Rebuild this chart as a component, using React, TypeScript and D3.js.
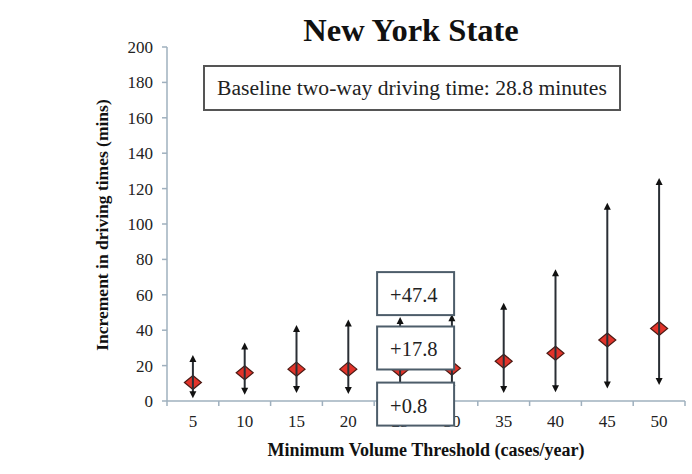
import React from "react";
import * as d3 from "d3";

const categories = [5, 10, 15, 20, 25, 30, 35, 40, 45, 50];
const means = [10.5, 16, 18, 18, 17.8, 18.5, 22.5, 27, 34.5, 41];
const lows = [1.5, 3.5, 4.5, 4, 0.8, 5, 4.5, 5, 7, 9];
const highs = [26, 33, 43, 46, 47.4, 49, 55.5, 74.5, 112, 126];
const yTicks = [0, 20, 40, 60, 80, 100, 120, 140, 160, 180, 200];
const annotatedCategory = 25;
const annotations = ["+47.4", "+17.8", "+0.8"];
const title = "New York State";
const baselineText = "Baseline two-way driving time: 28.8 minutes";
const xTitle = "Minimum Volume Threshold (cases/year)";
const yTitle = "Increment in driving times (mins)";

const W = 692;
const H = 474;
const serif = "'Liberation Serif', 'Times New Roman', serif";

export default function App() {
  const x = d3.scaleBand<number>().domain(categories).range([167, 685]);
  const y = d3.scaleLinear().domain([0, 200]).range([401, 47]);
  const axisColor = "#9fb0be";
  const bw = x.bandwidth();
  const boundaries = d3.range(categories.length + 1).map((i) => 167 + i * bw);

  const ai = categories.indexOf(annotatedCategory);
  const ax = (x(annotatedCategory) as number) + bw / 2;
  const boxW = 77;
  const boxH = 43;
  const boxLeft = ax - 23;
  const boxTops = [
    y(highs[ai]) - 2 - boxH,
    y(means[ai]) - boxH,
    y(lows[ai]) - 17,
  ];

  const diamond = (cx: number, cy: number) =>
    `M${cx},${cy - 7} L${cx + 8.5},${cy} L${cx},${cy + 7} L${cx - 8.5},${cy} Z`;
  const up = (cx: number, cy: number) =>
    `M${cx},${cy} L${cx + 3.5},${cy + 7} L${cx - 3.5},${cy + 7} Z`;
  const down = (cx: number, cy: number) =>
    `M${cx},${cy} L${cx + 3.5},${cy - 7} L${cx - 3.5},${cy - 7} Z`;

  return (
    <svg
      width={W}
      height={H}
      style={{ position: "absolute", left: 0, top: 0, background: "#fff" }}
      fontFamily={serif}
    >
      <rect width={W} height={H} fill="#fff" />
      {/* Title */}
      <text x={411} y={41} textAnchor="middle" fontSize={32.5} fontWeight="bold" fill="#111">
        {title}
      </text>

      {/* Y axis */}
      <line x1={167} x2={167} y1={y(200)} y2={y(0)} stroke={axisColor} strokeWidth={1.5} />
      {yTicks.map((t) => (
        <g key={t}>
          <line x1={162} x2={167} y1={y(t)} y2={y(t)} stroke={axisColor} strokeWidth={1.5} />
          <text x={153} y={y(t) + 6} textAnchor="end" fontSize={17} fill="#222">
            {t}
          </text>
        </g>
      ))}
      {/* X axis */}
      <line x1={167} x2={685} y1={y(0)} y2={y(0)} stroke={axisColor} strokeWidth={1.5} />
      {boundaries.map((b, i) => (
        <line key={i} x1={b} x2={b} y1={y(0)} y2={y(0) + 5} stroke={axisColor} strokeWidth={1.5} />
      ))}
      {categories.map((c) => (
        <text
          key={c}
          x={(x(c) as number) + bw / 2}
          y={427}
          textAnchor="middle"
          fontSize={17}
          fill="#222"
        >
          {c}
        </text>
      ))}

      {/* Axis titles */}
      <text x={426} y={456} textAnchor="middle" fontSize={18} fontWeight="bold" fill="#111">
        {xTitle}
      </text>
      <text
        transform={`translate(108,225) rotate(-90)`}
        textAnchor="middle"
        fontSize={17.5}
        fontWeight="bold"
        fill="#111"
      >
        {yTitle}
      </text>

      {/* Baseline box */}
      <rect x={204} y={66} width={416} height={44} fill="#fff" stroke="#555" strokeWidth={2} />
      <text x={217} y={95} fontSize={21.6} fill="#222">
        {baselineText}
      </text>

      {/* Data */}
      {categories.map((c, i) => {
        const cx = (x(c) as number) + bw / 2;
        return (
          <g key={c}>
            <path d={diamond(cx, y(means[i]))} fill="#e2332a" stroke="#4a1a14" strokeWidth={1.2} />
            <line
              x1={cx}
              x2={cx}
              y1={y(highs[i]) + 5}
              y2={y(lows[i]) - 5}
              stroke="#2a2f35"
              strokeWidth={2}
            />
            <path d={up(cx, y(highs[i]))} fill="#111" />
            <path d={down(cx, y(lows[i]))} fill="#111" />
          </g>
        );
      })}

      {/* Annotation boxes */}
      {annotations.map((a, i) => (
        <g key={a}>
          <rect
            x={boxLeft}
            y={boxTops[i]}
            width={boxW}
            height={boxH}
            fill="#fff"
            stroke="#4d5d6a"
            strokeWidth={2}
          />
          <text x={boxLeft + 13} y={boxTops[i] + 30} fontSize={20.5} fill="#222">
            {a}
          </text>
        </g>
      ))}
    </svg>
  );
}
